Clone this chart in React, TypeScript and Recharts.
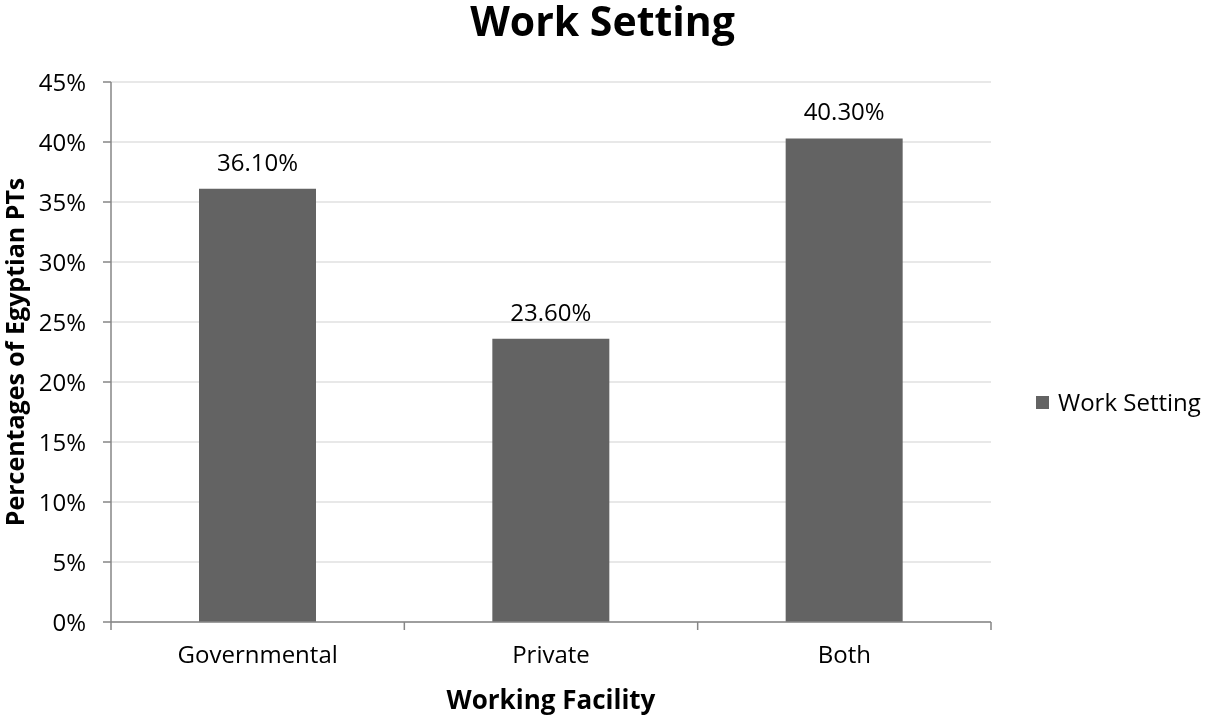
import { BarChart, Bar, XAxis, YAxis, CartesianGrid, LabelList } from "recharts";

const categories = ["Governmental", "Private", "Both"];
const workSetting = [36.1, 23.6, 40.3];
const yTicks = [0, 5, 10, 15, 20, 25, 30, 35, 40, 45];
const seriesName = "Work Setting";

const data = categories.map((name, i) => ({ name, value: workSetting[i] }));

const W = 1205;
const H = 716;
const LEFT = 111;
const RIGHT = 214;
const BAND = (W - LEFT - RIGHT) / categories.length;
const FONT = "'Open Sans', sans-serif";
const AXIS = "#868686";
const BAR = "#636363";

// ticks sit between the categories, like the original spreadsheet chart
function CategoryTick(props: any) {
  const { x, y, payload, index } = props;
  const last = index === categories.length - 1;
  return (
    <g>
      <line x1={x - BAND / 2} x2={x - BAND / 2} y1={y} y2={y + 8} stroke={AXIS} strokeWidth={1.5} />
      {last && <line x1={x + BAND / 2} x2={x + BAND / 2} y1={y} y2={y + 8} stroke={AXIS} strokeWidth={1.5} />}
      <text x={x} y={y + 24} dy="0.71em" textAnchor="middle" fill="#000" fontSize={24}>
        {payload.value}
      </text>
    </g>
  );
}

export default function App() {
  return (
    <div style={{ position: "fixed", left: 0, top: 0, width: W, height: H, background: "#fff", fontFamily: FONT }}>
      <div style={{ position: "absolute", left: 0, width: W, top: -3, textAlign: "center", fontSize: 41, lineHeight: "46px", fontWeight: 700 }}>
        Work Setting
      </div>
      <div
        style={{
          position: "absolute",
          left: 14,
          top: 352,
          transform: "translate(-50%, -50%) rotate(-90deg)",
          whiteSpace: "nowrap",
          fontSize: 25,
          fontWeight: 700,
        }}
      >
        Percentages of Egyptian PTs
      </div>
      <div
        style={{
          position: "absolute",
          left: 1036,
          top: 387,
          display: "flex",
          alignItems: "center",
          fontSize: 24,
          lineHeight: "30px",
          whiteSpace: "nowrap",
        }}
      >
        <span style={{ display: "inline-block", width: 13, height: 13, background: BAR, marginRight: 9 }} />
        {seriesName}
      </div>
      <BarChart width={W} height={H} data={data} margin={{ top: 82, right: RIGHT, bottom: 0, left: 0 }} barCategoryGap="30%">
        <CartesianGrid vertical={false} stroke="#e0e0e0" strokeWidth={1.5} />
        <XAxis
          dataKey="name"
          height={94}
          tickSize={0}
          tickMargin={0}
          tickLine={false}
          axisLine={{ stroke: AXIS, strokeWidth: 1.5 }}
          tick={<CategoryTick />}
          label={{ value: "Working Facility", position: "insideBottom", offset: 7, fill: "#000", fontSize: 26, fontWeight: 700 }}
        />
        <YAxis
          width={LEFT}
          domain={[0, 45]}
          ticks={yTicks}
          interval={0}
          tickSize={8}
          tickMargin={17}
          tickFormatter={(v: number) => `${v}%`}
          tick={{ fill: "#000", fontSize: 24 }}
          axisLine={{ stroke: AXIS, strokeWidth: 1.5 }}
          tickLine={{ stroke: AXIS, strokeWidth: 1.5 }}
        />
        <Bar dataKey="value" name={seriesName} fill={BAR} isAnimationActive={false}>
          <LabelList
            dataKey="value"
            position="top"
            offset={18}
            fill="#000"
            fontSize={24}
            formatter={(v: any) => `${Number(v).toFixed(2)}%`}
          />
        </Bar>
      </BarChart>
    </div>
  );
}
